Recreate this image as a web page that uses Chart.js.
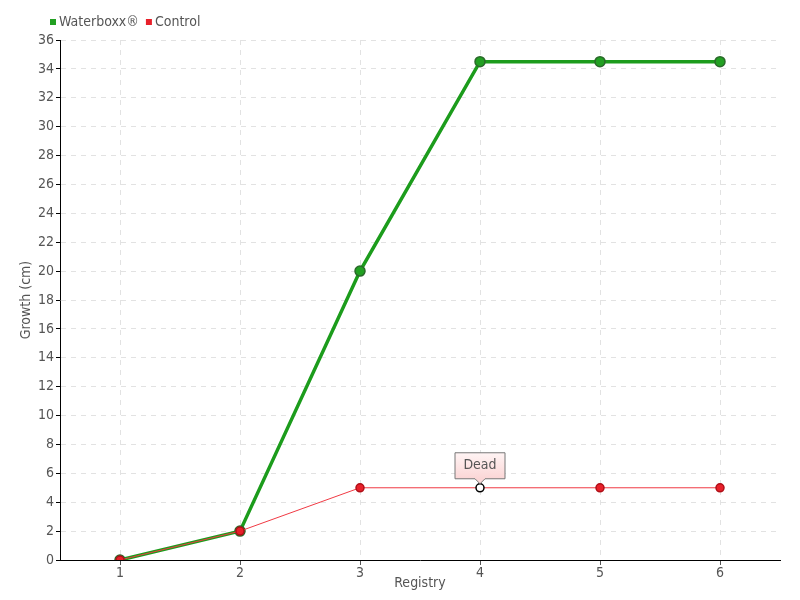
<!DOCTYPE html>
<html>
<head>
<meta charset="utf-8">
<script src="https://cdn.jsdelivr.net/npm/chart.js@4"></script>
<style>
  body { margin: 0; background: #fff; }
</style>
</head>
<body>
<canvas id="grafico" width="800" height="600"></canvas>
<script>
const registros = ["1", "2", "3", "4", "5", "6"];
const waterboxx = [0, 2, 20, 34.5, 34.5, 34.5];
const controle = [0, 2, 5, 5, 5, 5];
const yTicks = [0, 2, 4, 6, 8, 10, 12, 14, 16, 18, 20, 22, 24, 26, 28, 30, 32, 34, 36];
const mortoIndice = 3;
const mortoTexto = "Dead";

const fonte = "'Liberation Sans Narrow', 'DejaVu Sans Condensed', 'Roboto Condensed', sans-serif";
Chart.defaults.font.family = fonte;
Chart.defaults.color = "#555";

// caixa "Dead" em cima do ponto morto
const rotuloMorto = {
  id: "rotuloMorto",
  afterDatasetsDraw(chart) {
    const p = chart.getDatasetMeta(1).data[mortoIndice];
    if (!p) return;
    const ctx = chart.ctx;
    const w = 50, h = 26;
    const x0 = p.x - w / 2, y1 = p.y - 9, y0 = y1 - h;
    ctx.save();
    const grad = ctx.createLinearGradient(0, y0, 0, y1);
    grad.addColorStop(0, "#fff4f4");
    grad.addColorStop(1, "#fbd6d6");
    ctx.beginPath();
    ctx.moveTo(x0, y0);
    ctx.lineTo(x0 + w, y0);
    ctx.lineTo(x0 + w, y1);
    ctx.lineTo(p.x + 5, y1);
    ctx.lineTo(p.x, y1 + 5);
    ctx.lineTo(p.x - 5, y1);
    ctx.lineTo(x0, y1);
    ctx.closePath();
    ctx.fillStyle = grad;
    ctx.fill();
    ctx.strokeStyle = "#777";
    ctx.lineWidth = 1;
    ctx.stroke();
    ctx.fillStyle = "#555";
    ctx.font = "14px " + fonte;
    ctx.textAlign = "center";
    ctx.textBaseline = "middle";
    ctx.fillText(mortoTexto, p.x, (y0 + y1) / 2);
    ctx.restore();
  }
};

// legenda simples no canto de cima
const legendaTopo = {
  id: "legendaTopo",
  afterDraw(chart) {
    const ctx = chart.ctx;
    ctx.save();
    ctx.font = "14px " + fonte;
    ctx.textBaseline = "middle";
    let x = 50;
    const y = 22;
    chart.data.datasets.forEach(d => {
      ctx.fillStyle = d.backgroundColor;
      ctx.fillRect(x, y - 3, 6, 6);
      ctx.fillStyle = "#555";
      ctx.fillText(d.label, x + 9, y);
      x += 9 + ctx.measureText(d.label).width + 7;
    });
    ctx.restore();
  }
};

const corFundoControle = controle.map((v, i) => i === mortoIndice ? "#fff" : "#e8202a");
const corBordaControle = controle.map((v, i) => i === mortoIndice ? "#000" : "#b01018");

new Chart(document.getElementById("grafico").getContext("2d"), {
  type: "line",
  data: {
    labels: registros,
    datasets: [{
      label: "Waterboxx®",
      data: waterboxx,
      order: 2,
      borderColor: "#1c9c1c",
      backgroundColor: "#22a022",
      borderWidth: 3.5,
      pointRadius: 5,
      pointBackgroundColor: "#22a022",
      pointBorderColor: "#2a6a2a",
      pointBorderWidth: 1.5,
      tension: 0
    }, {
      label: "Control",
      data: controle,
      order: 1,
      borderColor: "#f03a44",
      backgroundColor: "#e8202a",
      borderWidth: 1,
      pointRadius: 4,
      pointBackgroundColor: corFundoControle,
      pointBorderColor: corBordaControle,
      pointBorderWidth: 1.5,
      tension: 0
    }]
  },
  options: {
    responsive: false,
    animation: false,
    layout: { padding: { left: 18, right: 20, top: 40, bottom: 8 } },
    plugins: {
      tooltip: { enabled: false },
      legend: { display: false }
    },
    scales: {
      x: {
        type: "category",
        offset: true,
        grid: { offset: false, color: "#e2e2e2", tickColor: "#555", tickLength: 5 },
        border: { color: "#000", width: 1, dash: [5, 5] },
        ticks: { color: "#555", font: { size: 14 }, padding: 0 },
        title: { display: true, text: "Registry", color: "#555", font: { size: 14 }, padding: { top: 0, bottom: 0 } },
        afterFit(s) { s.height = 32; }
      },
      y: {
        min: 0,
        max: 36,
        afterBuildTicks(s) { s.ticks = yTicks.map(v => ({ value: v })); },
        grid: { color: "#e2e2e2", tickColor: "#000", tickLength: 4 },
        border: { color: "#000", width: 1, dash: [5, 5] },
        ticks: { color: "#555", font: { size: 14 }, padding: 2 },
        title: { display: true, text: "Growth (cm)", color: "#555", font: { size: 14 }, padding: 0 },
        afterFit(s) { s.width = 42; }
      }
    }
  },
  plugins: [rotuloMorto, legendaTopo]
});
</script>
</body>
</html>
